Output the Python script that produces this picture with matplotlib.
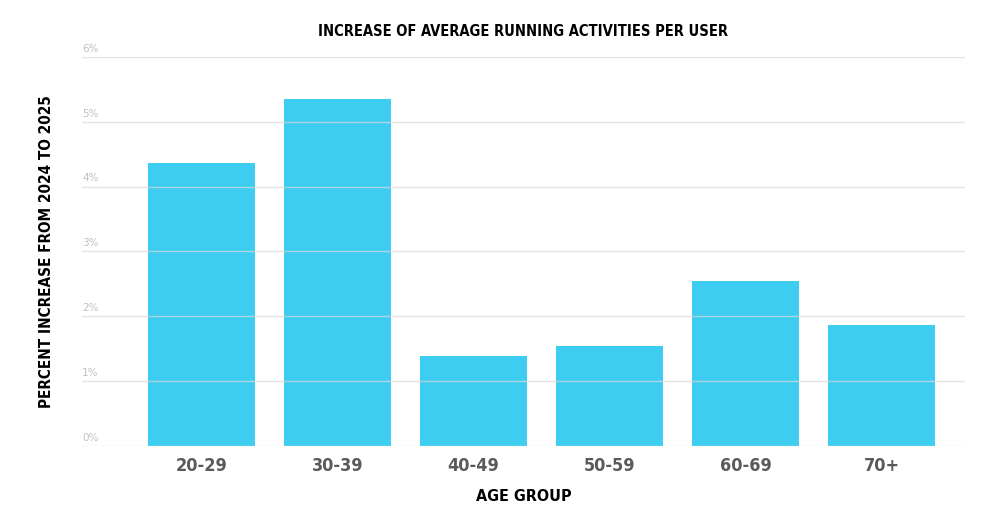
import matplotlib
matplotlib.use('Agg')
import matplotlib.pyplot as plt
from matplotlib import font_manager

# Data
age_groups = ['20-29', '30-39', '40-49', '50-59', '60-69', '70+']
pct_increase = [4.37, 5.35, 1.39, 1.54, 2.55, 1.87]
y_ticks = [0, 1, 2, 3, 4, 5, 6]
y_tick_labels = ['0%', '1%', '2%', '3%', '4%', '5%', '6%']

# pick a condensed face if one is installed
cond = [f for f in font_manager.fontManager.ttflist
        if 'ondensed' in f.fname or 'Narrow' in f.fname]
if cond:
    head_font = font_manager.FontProperties(fname=sorted(
        cond, key=lambda f: ('Bold' not in f.fname, f.fname))[0].fname)
else:
    head_font = font_manager.FontProperties(family='DejaVu Sans', weight='bold')

bar_color = '#3dcdf1'

fig = plt.figure(figsize=(10, 5.21), dpi=100)
ax = fig.add_axes([0.082, 0.144, 0.883, 0.7466])

x = list(range(len(age_groups)))
ax.bar(x, pct_increase, width=0.785, color=bar_color, zorder=1)

# Gridlines drawn over the bars
for t in y_ticks:
    ax.axhline(t, color='#d9d9d9', linewidth=1, alpha=0.7, zorder=2)

ax.set_xlim(-0.875, 5.61)
ax.set_ylim(0, 6)

# Y tick labels sit above the gridlines at the left edge
for t, lab in zip(y_ticks, y_tick_labels):
    ax.text(-0.875, t + 0.05, lab, ha='left', va='bottom',
            fontsize=7.5, color='#c0c0c0')
ax.set_yticks([])

ax.set_xticks(x)
ax.set_xticklabels(age_groups, fontproperties=head_font, fontsize=13,
                   color='#5a5a5a')
ax.tick_params(axis='x', length=0, pad=8)

for s in ax.spines.values():
    s.set_visible(False)

ax.set_xlabel('AGE GROUP', fontproperties=head_font, fontsize=11.5, labelpad=10)
ax.set_ylabel('PERCENT INCREASE FROM 2024 TO 2025', fontproperties=head_font,
              fontsize=11, labelpad=20)
ax.set_title('INCREASE OF AVERAGE RUNNING ACTIVITIES PER USER',
             fontproperties=head_font, fontsize=10.5, pad=15)

fig.savefig('out.png', dpi=100)
